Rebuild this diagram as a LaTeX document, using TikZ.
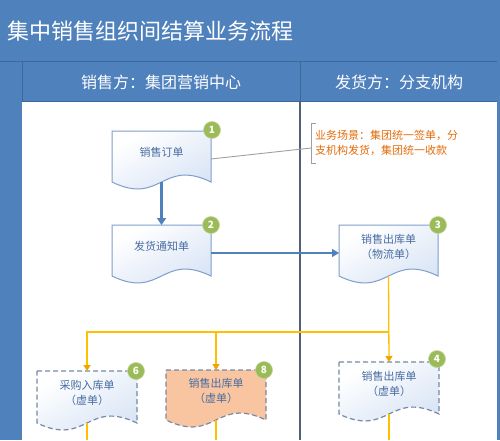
\documentclass[tikz,border=0pt]{standalone}
\usepackage{fontspec}
\setmainfont{Noto Sans CJK SC}
\usetikzlibrary{arrows.meta}
\definecolor{hdrblue}{RGB}{79,129,189}
\definecolor{hdrline}{RGB}{62,104,156}
\definecolor{laneline}{RGB}{80,96,122}
\definecolor{docline}{RGB}{126,159,204}
\definecolor{docfill}{RGB}{212,225,244}
\definecolor{doctxt}{RGB}{72,108,162}
\definecolor{dashcol}{RGB}{118,138,165}
\definecolor{badgegreen}{RGB}{155,187,89}
\definecolor{flowyellow}{RGB}{255,192,0}
\definecolor{tipyellow}{RGB}{240,165,0}
\definecolor{noteorange}{RGB}{228,108,10}
\definecolor{salmon}{RGB}{249,196,160}
\definecolor{notegray}{RGB}{160,160,160}
\tikzset{
  docsolid/.style={draw=docline, line width=1pt, top color=white, bottom color=docfill, shading angle=30},
  docdash/.style={draw=dashcol, line width=1.2pt, dash pattern=on 5pt off 3pt, top color=white, bottom color=docfill, shading angle=30},
  docsalmon/.style={draw=dashcol, line width=1.2pt, dash pattern=on 5pt off 3pt, fill=salmon},
  doctext/.style={text=doctxt, align=center, inner sep=0pt, font=\fontsize{11}{15}\selectfont},
  badge/.style={circle, fill=badgegreen, draw=badgegreen!60!white, line width=0.6pt, minimum size=17pt, inner sep=0pt, text=white, font=\fontsize{10}{10}\selectfont\bfseries},
  bluethick/.style={draw=hdrblue, line width=2.2pt, -{Triangle[width=9pt,length=7pt]}},
  bluethin/.style={draw=hdrblue, line width=1.3pt, -{Triangle[width=8pt,length=7pt]}},
  yline/.style={draw=flowyellow, line width=1.3pt},
  yarrow/.style={draw=flowyellow, line width=1.3pt, -{Triangle[width=7pt,length=6pt,color=tipyellow]}},
  grayline/.style={draw=notegray, line width=0.9pt},
}
% #1 name, #2 L, #3 T, #4 R, #5 B, #6 style, #7 text
\newcommand\docbox[7]{%
  \path[#6] (#2,#3) -- (#4,#3) -- (#4,#5) .. controls ({(#2+#4)/2},{#5-24}) and ({(#2+#4)/2},{#5+24}) .. (#2,#5) -- cycle;
  \coordinate (#1-t) at ({(#2+#4)/2},#3);
  \coordinate (#1-b) at ({(#2+#4)/2},#5);
  \coordinate (#1-l) at (#2,{#3+28});
  \coordinate (#1-r) at (#4,{#3+28});
  \node[doctext] (#1) at ({(#2+#4)/2},{(#3+#5)/2-4}) {#7};
}
\begin{document}
\begin{tikzpicture}[x=1pt,y=-1pt]
\useasboundingbox (0,0) rectangle (500,440);
% background
\fill[white] (0,0) rectangle (500,440);
\fill[hdrblue] (0,0) rectangle (500,101);
\fill[hdrblue] (0,101) rectangle (22,440);
\draw[hdrline, line width=0.8pt] (0,61) -- (500,61);
\draw[hdrline, line width=0.8pt] (22,61) -- (22,101);
\draw[hdrline, line width=0.8pt] (22,101) -- (497,101);
\draw[hdrline, line width=1pt] (300,61) -- (300,101);
\draw[laneline, line width=1.3pt] (300,101) -- (300,440);
\draw[hdrblue, line width=3pt] (498.5,61) -- (498.5,440);
\node[anchor=west, inner sep=0pt, text=white, font=\fontsize{22}{22}\selectfont] (title) at (7,31) {集中销售组织间结算业务流程};
\node[text=white, inner sep=0pt, font=\fontsize{16}{16}\selectfont] (lane1) at (161,82) {销售方：集团营销中心};
\node[text=white, inner sep=0pt, font=\fontsize{16}{16}\selectfont] (lane2) at (399,82) {发货方：分支机构};
% documents
\docbox{d1}{112}{131}{211}{182}{docsolid}{销售订单}
\docbox{d2}{112}{225}{211}{276}{docsolid}{发货通知单}
\docbox{d3}{339}{225}{438}{276}{docsolid}{销售出库单\\（物流单）}
\docbox{d6}{37}{371}{137}{423}{docdash}{采购入库单\\（虚单）}
\docbox{d8}{166}{370}{266}{420}{docsalmon}{销售出库单\\（虚单）}
\docbox{d4}{339}{362}{439}{414}{docdash}{销售出库单\\（虚单）}
% note
\coordinate (brk) at (311,148);
\draw[grayline] (d1-r) -- (brk);
\draw[grayline] (316,123) -- (311,123) -- (311,163) -- (316,163);
\node[anchor=west, align=left, inner sep=0pt, text=noteorange, font=\fontsize{11}{15}\selectfont] (note) at (315,142.5) {业务场景：集团统一签单，分\\支机构发货，集团统一收款};
% connectors
\draw[bluethick] (d1-b) -- (d2-t);
\draw[bluethin] (d2-r) -- (d3-l);
\coordinate (j3) at (388.5,332);
\coordinate (j6) at (87,332);
\coordinate (j8) at (216,332);
\draw[yarrow] (d3-b) -- (d4-t);
\draw[yarrow] (j3) -- (j6) -- (d6-t);
\draw[yarrow] (j8) -- (d8-t);
\coordinate (e6) at (87,440);
\coordinate (e8) at (216,440);
\coordinate (e4) at (389,440);
\draw[yline] (d6-b) -- (e6);
\draw[yline] (d8-b) -- (e8);
\draw[yline] (d4-b) -- (e4);
% badges
\node[badge] (b1) at (212,130) {1};
\node[badge] (b2) at (211,225) {2};
\node[badge] (b3) at (438,225) {3};
\node[badge] (b4) at (437,359) {4};
\node[badge] (b6) at (136,371) {6};
\node[badge] (b8) at (264,370) {8};
\end{tikzpicture}
\end{document}
